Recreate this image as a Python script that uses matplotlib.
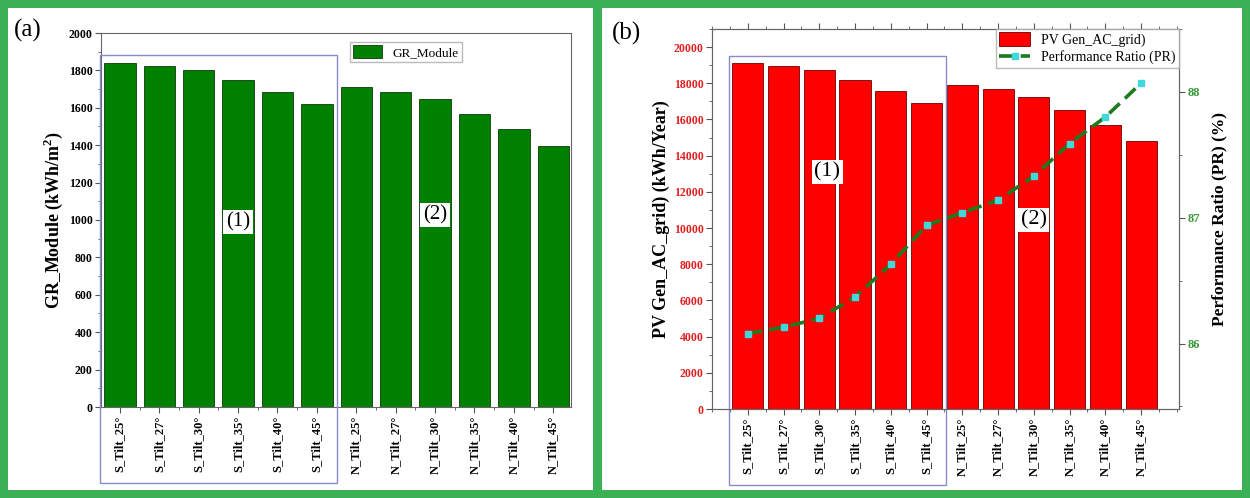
"""
GR_Module and PV generation / performance ratio for S and N tilts
"""
import matplotlib
matplotlib.use('Agg')
from matplotlib import pyplot as plt
from matplotlib.patches import Rectangle, Patch
from matplotlib.lines import Line2D
from matplotlib.ticker import MultipleLocator
import numpy

plt.rcParams['font.family'] = ['Liberation Serif', 'DejaVu Serif']

# Data:
tilt_labels = ['S_Tilt_25°', 'S_Tilt_27°', 'S_Tilt_30°', 'S_Tilt_35°', 'S_Tilt_40°', 'S_Tilt_45°',
               'N_Tilt_25°', 'N_Tilt_27°', 'N_Tilt_30°', 'N_Tilt_35°', 'N_Tilt_40°', 'N_Tilt_45°']
gr_module = [1841, 1825, 1802, 1749, 1686, 1619, 1710, 1683, 1645, 1567, 1485, 1396]  # kWh/m2
pv_gen = [19130, 18950, 18710, 18180, 17590, 16920, 17900, 17660, 17250, 16520, 15690, 14800]  # kWh/Year
perf_ratio = [86.08, 86.13, 86.20, 86.37, 86.63, 86.94, 87.04, 87.14, 87.33, 87.59, 87.80, 88.07]  # %

W, H = 1250, 498
figure = plt.figure(figsize=(W/100, H/100), dpi=100)

# Green frames round both panels:
figure.patch.set_facecolor('#3cb054')
for (x0, y0, x1, y1) in [(8, 8, 593, 490), (602, 8, 1242, 490)]:
    figure.add_artist(Rectangle((x0/W, 1 - y1/H), (x1 - x0)/W, (y1 - y0)/H,
                                transform=figure.transFigure, facecolor='white',
                                edgecolor='none', zorder=-1))

x = numpy.arange(len(tilt_labels))
tick_font = dict(fontsize=9, fontweight='bold')
ytick_size = 8.5
boxColour = '#8a8ac8'

# ---------- (a) ----------
ax1 = figure.add_axes([101/W, 1 - 407/H, 470/W, 374/H])
ax1.bar(x, gr_module, width=0.8, color='#008000', edgecolor='#0a3a0a', linewidth=0.6,
        label='GR_Module', zorder=2)
ax1.set_xlim(-0.48, 11.45)
ax1.set_ylim(0, 2000)
ax1.yaxis.set_major_locator(MultipleLocator(200))
ax1.yaxis.set_minor_locator(MultipleLocator(100))
ax1.set_xticks(x)
ax1.set_xticks(x[:-1] + 0.5, minor=True)
ax1.set_xticklabels(tilt_labels, rotation=90, **tick_font)
for lab in ax1.get_yticklabels():
    lab.set_fontsize(ytick_size)
    lab.set_fontweight('bold')
ax1.tick_params(which='major', length=4, width=0.8, color='#555555', pad=2)
ax1.tick_params(which='minor', length=2, width=0.6, color='#555555')
for s in ax1.spines.values():
    s.set_color('#666666')
ax1.set_ylabel('GR_Module (kWh/m$^\\mathregular{2}$)', fontsize=13, fontweight='bold', labelpad=3)
ax1.legend(loc='upper right', bbox_to_anchor=(0.768, 0.976), borderaxespad=0, fontsize=9.5,
           frameon=True, fancybox=False, edgecolor='#aaaaaa', handlelength=2.2,
           handleheight=1.1, borderpad=0.25)
ax1.add_patch(Rectangle((-0.5, -406), 6.0, 1882 + 406, fill=False, edgecolor=boxColour,
                        linewidth=1.0, clip_on=False, zorder=3))
bbox = dict(facecolor='white', edgecolor='none', pad=2)
ax1.text(3, 989, '(1)', ha='center', va='center', fontsize=15, bbox=bbox, zorder=4)
ax1.text(8, 1027, '(2)', ha='center', va='center', fontsize=15, bbox=bbox, zorder=4)
figure.text(14/W, 1 - 30/H, '(a)', fontsize=18, va='center', ha='left')

# ---------- (b) ----------
ax2 = figure.add_axes([712/W, 1 - 409/H, 467/W, 380/H])
ax2.bar(x, pv_gen, width=0.87, color='#ff0000', edgecolor='#6a0000', linewidth=0.6, zorder=2)
ax2.set_xlim(-1.0, 12.06)
ax2.set_ylim(0, 21000)
ax2.yaxis.set_major_locator(MultipleLocator(2000))
ax2.yaxis.set_minor_locator(MultipleLocator(1000))
ax2.set_xticks(x)
ax2.set_xticks(numpy.arange(-1, 12.5, 0.5), minor=True)
ax2.set_xticklabels(tilt_labels, rotation=90, **tick_font)
for lab in ax2.get_yticklabels():
    lab.set_fontsize(ytick_size)
    lab.set_fontweight('bold')
    lab.set_color('#e02020')
ax2.tick_params(which='major', length=4, width=0.8, color='#555555', top=True, pad=2)
ax2.tick_params(which='minor', length=2, width=0.6, color='#555555', top=True)
for s in ax2.spines.values():
    s.set_color('#666666')
ax2.set_ylabel('PV Gen_AC_grid) (kWh/Year)', fontsize=13, fontweight='bold', labelpad=3)

ax3 = ax2.twinx()
lineColour = '#1e7a1e'
markerColour = '#3fd8dc'
ax3.plot(x, perf_ratio, color=lineColour, linestyle='--', dashes=(4, 2), linewidth=2.6,
         marker='s', markersize=5, markerfacecolor=markerColour, markeredgecolor=markerColour,
         zorder=3)
ax3.set_ylim(85.48, 88.5)
ax3.yaxis.set_major_locator(MultipleLocator(1))
ax3.yaxis.set_minor_locator(MultipleLocator(0.5))
for lab in ax3.get_yticklabels():
    lab.set_fontsize(ytick_size + 0.5)
    lab.set_fontweight('bold')
    lab.set_color('#3a9a3a')
ax3.tick_params(which='major', length=4, width=0.8, color='#555555', pad=2)
ax3.tick_params(which='minor', length=2, width=0.6, color='#555555')
for s in ax3.spines.values():
    s.set_color('#666666')
ax3.set_ylabel('Performance Ratio (PR) (%)', fontsize=12.5, fontweight='bold', labelpad=8)

handles = [Patch(facecolor='#ff0000', edgecolor='#6a0000', linewidth=0.6),
           Line2D([0], [0], color=lineColour, linestyle='--', dashes=(4, 2), linewidth=2.6,
                  marker='s', markersize=5, markerfacecolor=markerColour,
                  markeredgecolor=markerColour)]
ax3.legend(handles, ['PV Gen_AC_grid)', 'Performance Ratio (PR)'], loc='upper right',
           borderaxespad=0, fontsize=10, frameon=True, fancybox=False, edgecolor='#aaaaaa',
           handlelength=2.2, handleheight=1.1, borderpad=0.25, labelspacing=0.2)

ax2.add_patch(Rectangle((-0.53, -4200), 6.08, 19500 + 4200, fill=False, edgecolor=boxColour,
                        linewidth=1.0, clip_on=False, zorder=3))
ax2.text(2.23, 13090, '(1)', ha='center', va='center', fontsize=16, bbox=bbox, zorder=4)
ax2.text(8, 10440, '(2)', ha='center', va='center', fontsize=16, bbox=bbox, zorder=4)
figure.text(612/W, 1 - 33/H, '(b)', fontsize=18, va='center', ha='left')

# Save plot:
plt.savefig('out.png', dpi=100)
